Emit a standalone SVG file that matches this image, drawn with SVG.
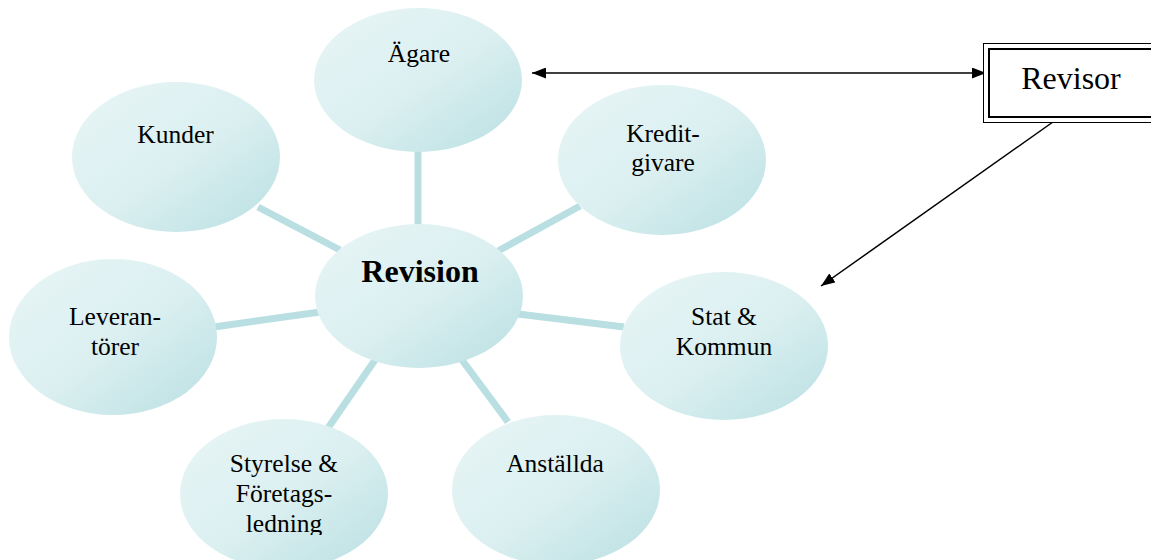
<svg xmlns="http://www.w3.org/2000/svg" width="1151" height="560" viewBox="0 0 1151 560">
<defs>
<linearGradient id="g" x1="0" y1="0" x2="1" y2="1">
<stop offset="0" stop-color="#e8f5f6"/>
<stop offset="0.5" stop-color="#dcf0f1"/>
<stop offset="1" stop-color="#b9dfe2"/>
</linearGradient>
<marker id="ah" viewBox="0 0 14 11" refX="14" refY="5.5" markerWidth="14" markerHeight="11" markerUnits="userSpaceOnUse" orient="auto-start-reverse">
<path d="M0,0 L14,5.5 L0,11 z" fill="#000"/>
</marker>
<clipPath id="clipL"><rect x="0" y="0" width="1151" height="535"/></clipPath>
</defs>
<style>
.n{fill:url(#g);}
.t{font-family:'Liberation Serif','Times New Roman',serif;font-size:25.5px;fill:#000;text-anchor:middle;}
.b{font-weight:bold;font-size:32px;}
.big{font-size:32px;}
.spoke{stroke:#b9dfe2;stroke-width:7;fill:none;}
.arr{stroke:#000;stroke-width:1.5;fill:none;}
</style>
<rect width="1151" height="560" fill="#fff"/>
<g id="connectors">
<line class="spoke" x1="418" y1="150" x2="418" y2="230"/>
<line class="spoke" x1="258" y1="207" x2="340" y2="250"/>
<line class="spoke" x1="580" y1="206" x2="498" y2="251"/>
<line class="spoke" x1="214" y1="327" x2="320" y2="312"/>
<line class="spoke" x1="518" y1="314" x2="624" y2="327"/>
<line class="spoke" x1="375" y1="360" x2="328" y2="428"/>
<line class="spoke" x1="462" y1="360" x2="508" y2="422"/>
<line class="arr" x1="532" y1="73" x2="986" y2="73" marker-start="url(#ah)" marker-end="url(#ah)"/>
<line class="arr" x1="1060" y1="117" x2="821" y2="286" marker-end="url(#ah)"/>
</g>
<g id="agare"><ellipse class="n" cx="418" cy="80" rx="104" ry="72"/><text class="t" x="419" y="62">Ägare</text></g>
<g id="kunder"><ellipse class="n" cx="176" cy="157" rx="104" ry="75"/><text class="t" x="175.5" y="143">Kunder</text></g>
<g id="kreditgivare"><ellipse class="n" cx="662" cy="160" rx="104" ry="75"/><text class="t" x="663" y="142">Kredit-</text><text class="t" x="663" y="171">givare</text></g>
<g id="revision"><ellipse class="n" cx="419" cy="296" rx="104" ry="72"/><text class="t b" x="420" y="282">Revision</text></g>
<g id="leverantorer"><ellipse class="n" cx="113" cy="337" rx="104" ry="78"/><text class="t" x="115" y="325">Leveran-</text><text class="t" x="115" y="355">törer</text></g>
<g id="statkommun"><ellipse class="n" cx="724" cy="346" rx="104" ry="74"/><text class="t" x="724" y="325">Stat &amp;</text><text class="t" x="724" y="355">Kommun</text></g>
<g id="styrelse"><ellipse class="n" cx="284" cy="494" rx="104" ry="75"/><g clip-path="url(#clipL)"><text class="t" x="284" y="472">Styrelse &amp;</text><text class="t" x="284" y="502">Företags-</text><text class="t" x="284" y="532">ledning</text></g></g>
<g id="anstallda"><ellipse class="n" cx="556" cy="490" rx="104" ry="75"/><text class="t" x="555" y="472">Anställda</text></g>
<g id="revisor">
<rect x="983.5" y="43.5" width="200" height="79" fill="#fff" stroke="#000" stroke-width="1"/>
<rect x="989" y="49" width="190" height="68" fill="none" stroke="#000" stroke-width="2"/>
<text class="t big" x="1071" y="89">Revisor</text>
</g>
</svg>
